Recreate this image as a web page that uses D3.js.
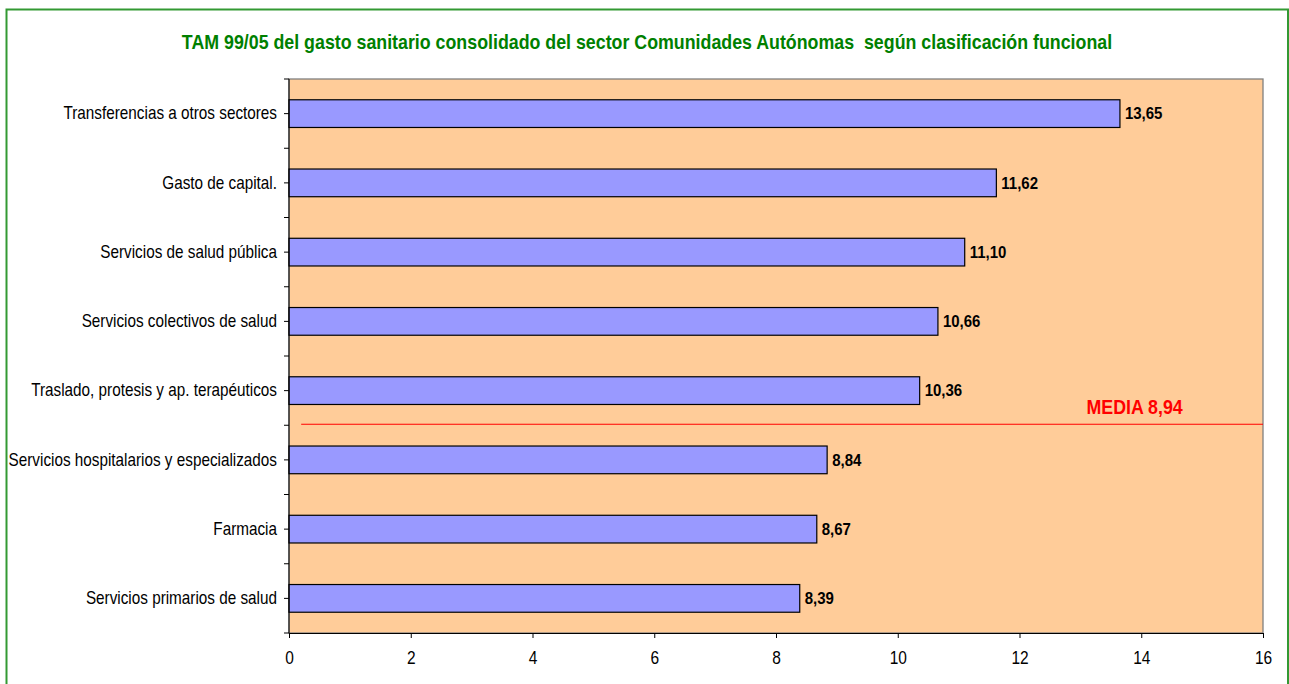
<!DOCTYPE html>
<html><head><meta charset="utf-8">
<script src="https://cdn.jsdelivr.net/npm/d3@7"></script>
<style>
body{margin:0;background:#fff;font-family:"Liberation Sans",Arial,sans-serif;}
svg text{transform-box:fill-box;transform-origin:center;transform:scaleY(1.15);}
</style>
</head><body>
<svg id="c" width="1289" height="684"></svg>
<script>
const categories = ["Transferencias a otros sectores","Gasto de capital.","Servicios de salud pública","Servicios colectivos de salud","Traslado, protesis y ap. terapéuticos","Servicios hospitalarios y especializados","Farmacia","Servicios primarios de salud"];
const values = [13.65, 11.62, 11.10, 10.66, 10.36, 8.84, 8.67, 8.39];
const valueLabels = ["13,65","11,62","11,10","10,66","10,36","8,84","8,67","8,39"];
const xTicks = [0,2,4,6,8,10,12,14,16];
const mediaValue = 8.94;
const mediaLabel = "MEDIA 8,94";
const title = "TAM 99/05 del gasto sanitario consolidado del sector Comunidades Autónomas  según clasificación funcional";

const svg = d3.select("#c");
const m = {left: 289, right: 1263, top: 79, bottom: 633};

svg.append("rect").attr("x",6.5).attr("y",9.5).attr("width",1281.5).attr("height",690)
  .attr("fill","#fff").attr("stroke","#339933").attr("stroke-width",2);

svg.append("text").attr("x",647).attr("y",48).attr("text-anchor","middle")
  .style("white-space","pre")
  .attr("fill","#008000").attr("font-weight","bold").attr("font-size","17.8px").text(title);

const x = d3.scaleLinear().domain([0,16]).range([m.left, m.right]);
const y = d3.scaleBand().domain(categories).range([m.top, m.bottom]).paddingInner(0.6).paddingOuter(0.3);

svg.append("rect").attr("x",m.left).attr("y",m.top).attr("width",m.right-m.left).attr("height",m.bottom-m.top)
  .attr("fill","#FFCC99").attr("stroke","#808080").attr("stroke-width",1.3);

svg.selectAll(".bar").data(values).join("rect")
  .attr("x", x(0)).attr("y",(d,i)=>y(categories[i]))
  .attr("width", d=>x(d)-x(0)).attr("height", y.bandwidth())
  .attr("fill","#9999FF").attr("stroke","#000").attr("stroke-width",1.2);

svg.selectAll(".vl").data(values).join("text")
  .attr("x", d=>x(d)+5).attr("y",(d,i)=>y(categories[i])+y.bandwidth()/2+5)
  .attr("font-size","15px").attr("font-weight","bold").attr("fill","#000")
  .text((d,i)=>valueLabels[i]);

const idxBelow = values.findIndex(v=>v<mediaValue);
const yMedia = y(categories[idxBelow]) - (y.step() - y.bandwidth())/2 - 1;
svg.append("line").attr("x1", x(0.2)).attr("x2", m.right).attr("y1", yMedia).attr("y2", yMedia)
  .attr("stroke","#ff0000").attr("stroke-width",1.2);
svg.append("text").attr("x", x(13.1)).attr("y", yMedia-11)
  .attr("fill","#ff0000").attr("font-weight","bold").attr("font-size","17.8px").text(mediaLabel);

const xa = svg.append("g").attr("transform",`translate(0,${m.bottom})`)
  .call(d3.axisBottom(x).tickValues(xTicks).tickSize(5).tickPadding(14).tickFormat(d=>String(d)));
xa.select(".domain").attr("stroke","#000");
xa.selectAll("text").attr("font-size","15.5px").attr("font-family","Liberation Sans, Arial, sans-serif").attr("fill","#000");

const ya = svg.append("g").attr("transform",`translate(${m.left},0)`)
  .call(d3.axisLeft(y).tickSize(5).tickPadding(7));
ya.select(".domain").attr("stroke","#000").attr("d",`M-0,${m.top}V${m.bottom}`);
ya.selectAll("text").attr("font-size","15.3px").attr("font-family","Liberation Sans, Arial, sans-serif").attr("fill","#000");
const bounds = d3.range(categories.length+1).map(i=>m.top + i*(m.bottom-m.top)/categories.length);
svg.append("g").selectAll("line").data(bounds).join("line")
  .attr("x1", m.left-5).attr("x2", m.left).attr("y1", d=>d).attr("y2", d=>d).attr("stroke","#000");
</script>
</body></html>
